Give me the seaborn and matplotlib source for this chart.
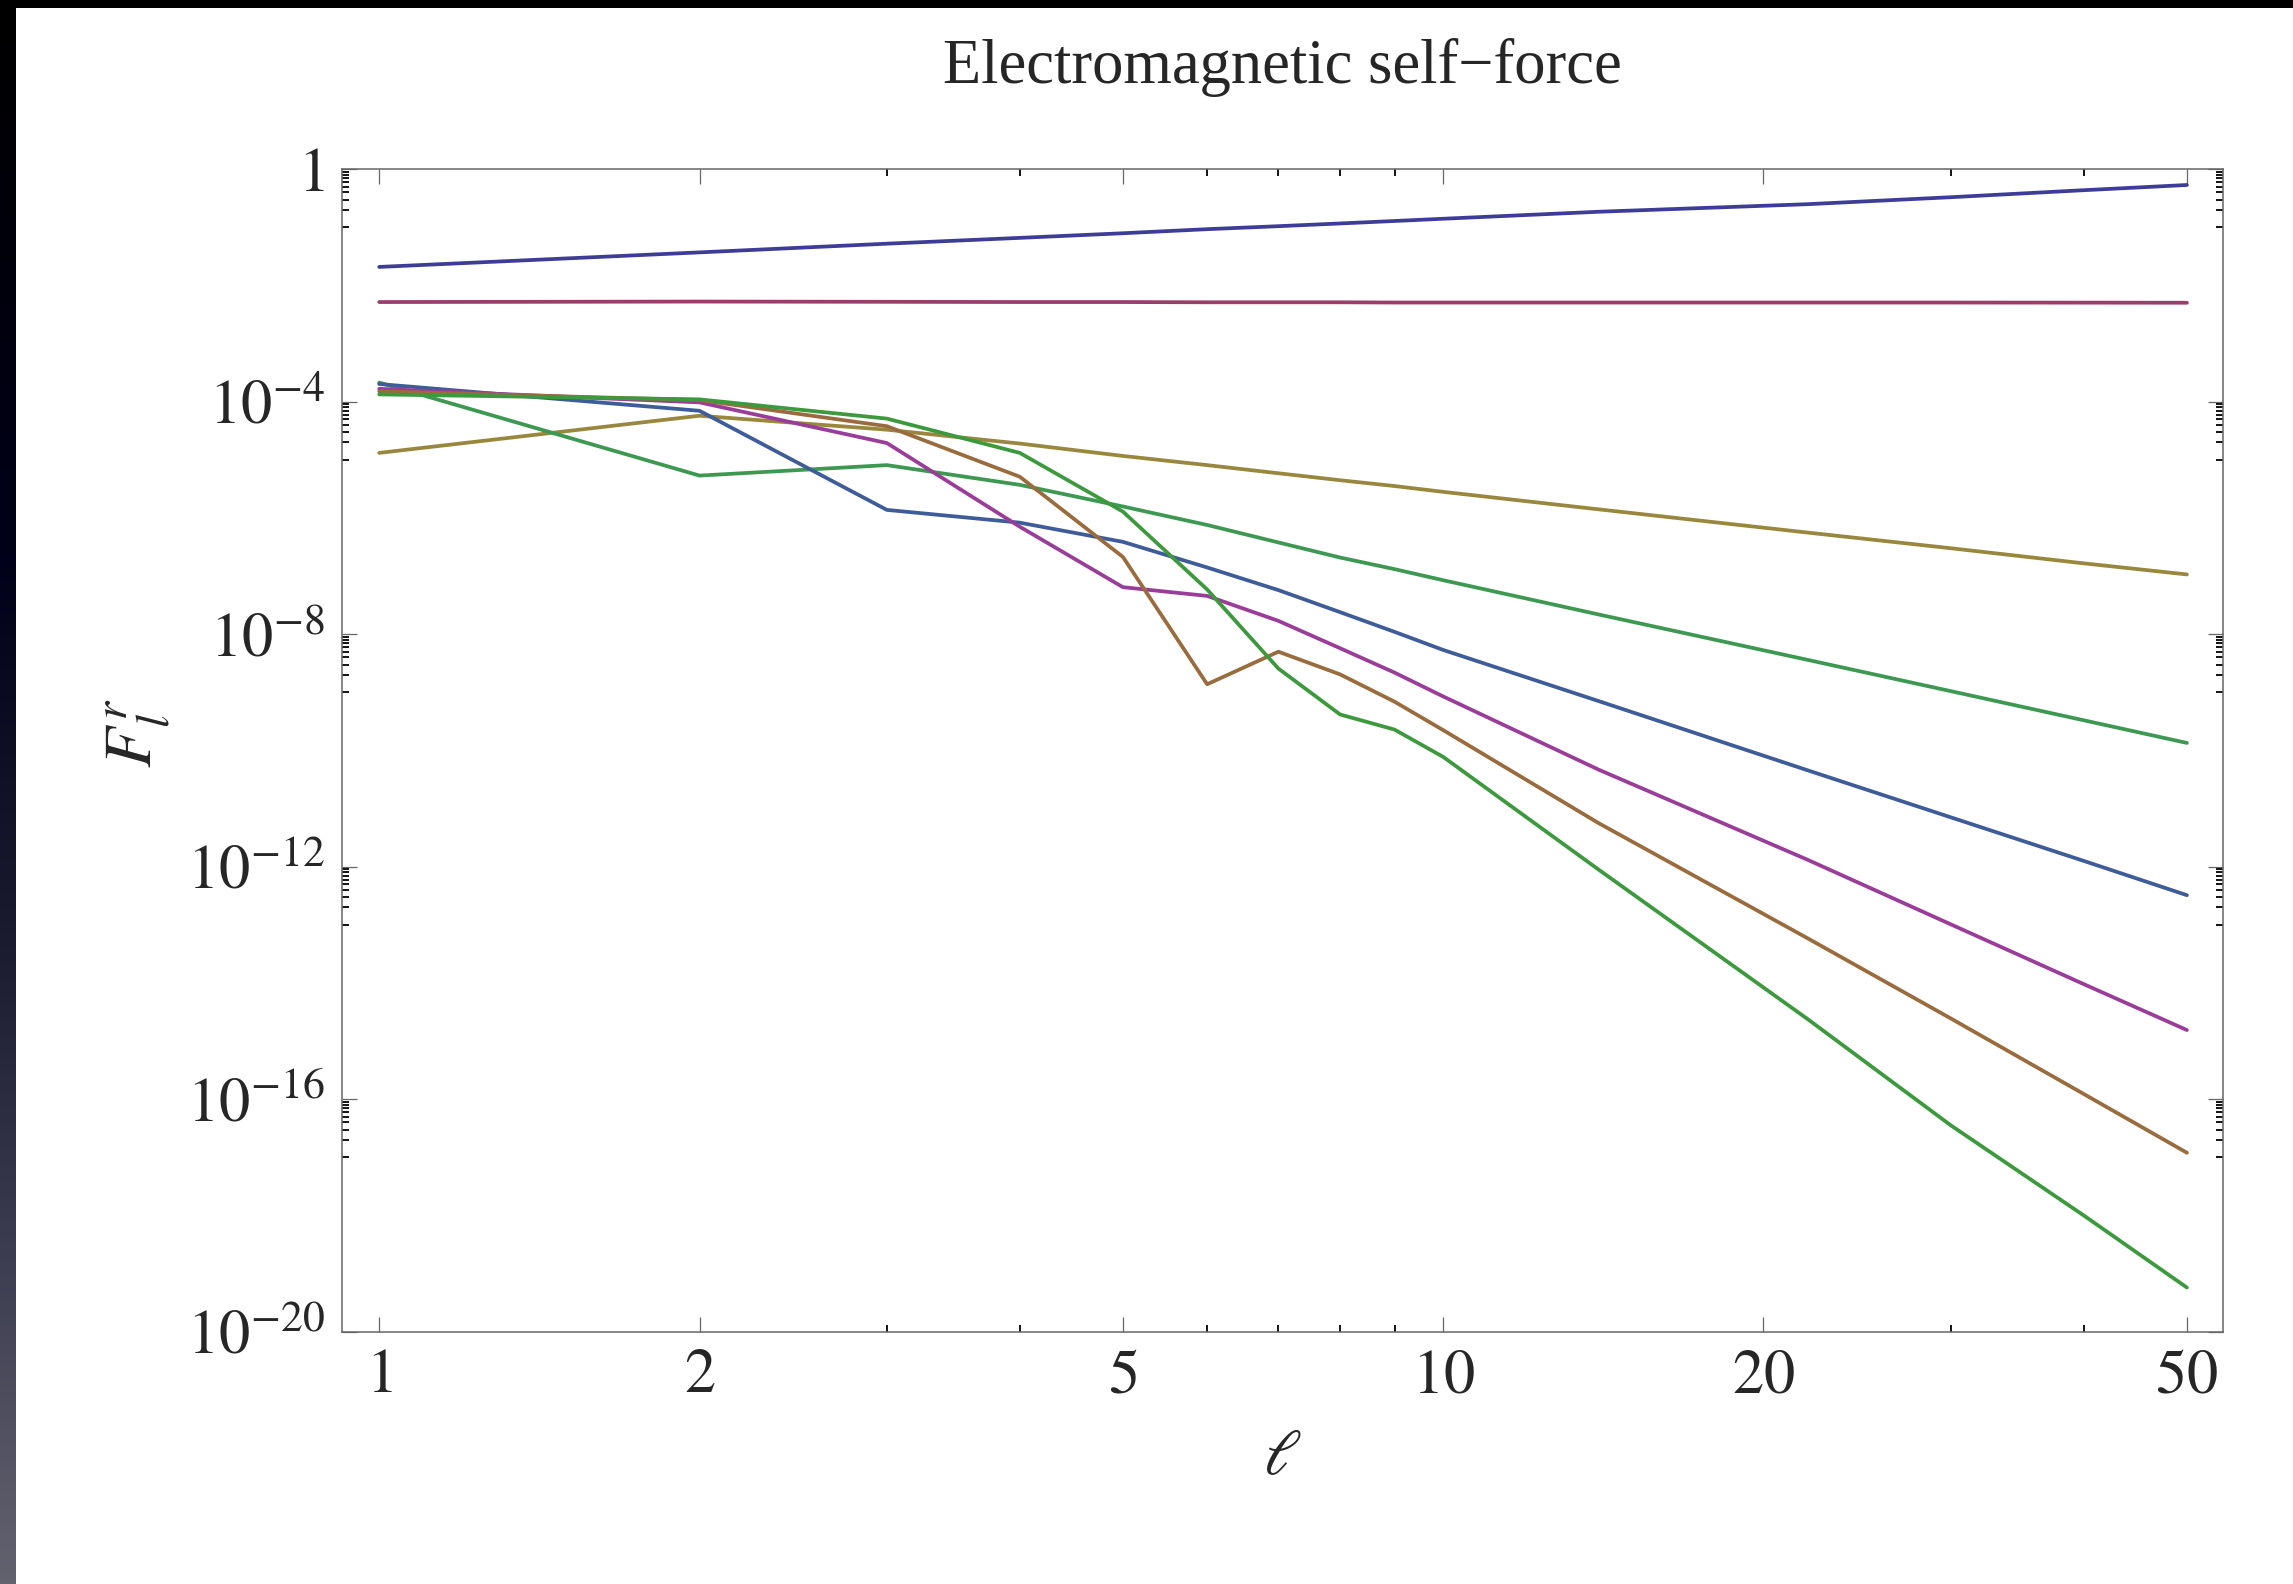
import numpy as np
import pandas as pd
import matplotlib
matplotlib.use("Agg")
import matplotlib.pyplot as plt
import seaborn as sns
from matplotlib.patches import Rectangle
from matplotlib.ticker import NullFormatter
from matplotlib.colors import LinearSegmentedColormap

# multipole number
ell = [1, 2, 3, 4, 5, 6, 7, 8, 9, 10, 14, 22, 30, 40, 50]

# F_l^r per series
s1 = [2.09e-2, 3.72e-2, 5.25e-2, 6.61e-2, 7.94e-2, 9.33e-2, 0.105, 0.117, 0.129, 0.141, 0.186, 0.251, 0.331, 0.437, 0.537]
s2 = [5.2e-3, 5.3e-3, 5.25e-3, 5.2e-3, 5.2e-3, 5.15e-3, 5.15e-3, 5.15e-3, 5.1e-3, 5.1e-3, 5.1e-3, 5.1e-3, 5.1e-3, 5.08e-3, 5.06e-3]
s3 = [1.32e-5, 5.75e-5, 3.31e-5, 1.91e-5, 1.17e-5, 8.13e-6, 5.89e-6, 4.47e-6, 3.55e-6, 2.82e-6, 1.41e-6, 5.62e-7, 3.02e-7, 1.66e-7, 1.07e-7]
s4 = [2.14e-4, 5.37e-6, 8.13e-6, 3.72e-6, 1.58e-6, 7.59e-7, 3.80e-7, 2.09e-7, 1.32e-7, 8.51e-8, 2.19e-8, 3.63e-9, 1.05e-9, 3.31e-10, 1.35e-10]
s5 = [2.02e-4, 7.00e-5, 1.38e-6, 8.32e-7, 3.89e-7, 1.41e-7, 5.75e-8, 2.40e-8, 1.10e-8, 5.37e-9, 7.08e-10, 4.57e-11, 7.08e-12, 1.26e-12, 3.24e-13]
s6 = [1.67e-4, 9.77e-5, 1.95e-5, 7.08e-7, 6.46e-8, 4.57e-8, 1.70e-8, 5.75e-9, 2.19e-9, 8.51e-10, 4.68e-11, 1.32e-12, 1.02e-13, 9.55e-15, 1.55e-15]
s7 = [1.51e-4, 1.07e-4, 3.80e-5, 5.13e-6, 2.14e-7, 1.38e-9, 5.01e-9, 2.04e-9, 6.92e-10, 2.24e-10, 5.62e-12, 5.89e-14, 2.45e-15, 1.23e-16, 1.20e-17]
s8 = [1.34e-4, 1.10e-4, 5.13e-5, 1.32e-5, 1.29e-6, 5.89e-8, 2.57e-9, 4.17e-10, 2.29e-10, 7.76e-11, 8.91e-13, 2.40e-15, 3.55e-17, 1.00e-18, 5.75e-20]

series = [s1, s2, s3, s4, s5, s6, s7, s8]
colors = ["#3d3d99", "#993d6b", "#99873d", "#3d9952", "#3d5c99", "#993d99", "#996b3d", "#3d993d"]

x_major = [1, 2, 5, 10, 20, 50]
x_labels = ["$1$", "$2$", "$5$", "$10$", "$20$", "$50$"]
x_minor = [3, 4, 6, 7, 8, 9, 30, 40]
y_major = [1, 1e-4, 1e-8, 1e-12, 1e-16, 1e-20]
y_labels = ["$1$", "$10^{-4}$", "$10^{-8}$", "$10^{-12}$", "$10^{-16}$", "$10^{-20}$"]
y_minor = [m * 10.0 ** (-4 * n - 1) for n in range(5) for m in range(1, 10)]

rows = []
for i, s in enumerate(series):
    for l, v in zip(ell, s):
        rows.append({"l": l, "F": v, "series": i})
df = pd.DataFrame(rows)

sns.set_theme(style="white")
plt.rcParams["font.family"] = ["Liberation Serif", "DejaVu Serif"]
plt.rcParams["mathtext.fontset"] = "stix"

W, H = 2293, 1584
fig = plt.figure(figsize=(W / 100, H / 100), dpi=100)

# dark frame pieces of the screenshot
strip = fig.add_axes([0, 0, 15 / W, 1])
cmap = LinearSegmentedColormap.from_list(
    "strip", [(0, "#000000"), (0.35, "#00001a"), (0.6, "#1c1c30"), (0.8, "#3e3e52"), (1, "#62626f")])
strip.imshow(np.linspace(0, 1, 256).reshape(-1, 1), cmap=cmap, aspect="auto")
strip.axis("off")
fig.patches.append(Rectangle((0, 1 - 8 / H), 1, 8 / H, transform=fig.transFigure,
                             facecolor="black", edgecolor="none", zorder=5))

ax = fig.add_axes([341.7 / W, 1 - 1331.7 / H, (2223.3 - 341.7) / W, (1331.7 - 169.3) / H])
sns.lineplot(data=df, x="l", y="F", hue="series", palette=colors, legend=False,
             estimator=None, sort=False, linewidth=2.7, ax=ax, solid_joinstyle="round")
ax.set_xscale("log")
ax.set_yscale("log")
ax.set_xlim(0.922, 54.1)
ax.set_ylim(1e-20, 1)

ax.set_xticks(x_major, labels=x_labels)
ax.set_xticks(x_minor, minor=True)
ax.set_yticks(y_major, labels=y_labels)
ax.set_yticks(y_minor, minor=True)
ax.xaxis.set_minor_formatter(NullFormatter())
ax.yaxis.set_minor_formatter(NullFormatter())

ax.tick_params(which="both", direction="in", top=True, right=True, bottom=True, left=True)
ax.tick_params(which="major", length=11, width=0.9, color="#666666", labelsize=45, pad=12)
ax.tick_params(which="minor", length=5, width=1.3, color="black")
for sp in ax.spines.values():
    sp.set_color("#666666")
    sp.set_linewidth(1.1)

ax.set_xlabel(r"$\ell$", fontsize=46)
ax.set_ylabel(r"$F^{r}_{l}$", fontsize=48)
ax.xaxis.set_label_coords(0.5, -0.085)
ax.yaxis.set_label_coords(-0.09, 0.515)
ax.set_title("Electromagnetic self\u2212force", fontsize=45, pad=62)

fig.savefig("out.png", dpi=100, facecolor="white")
